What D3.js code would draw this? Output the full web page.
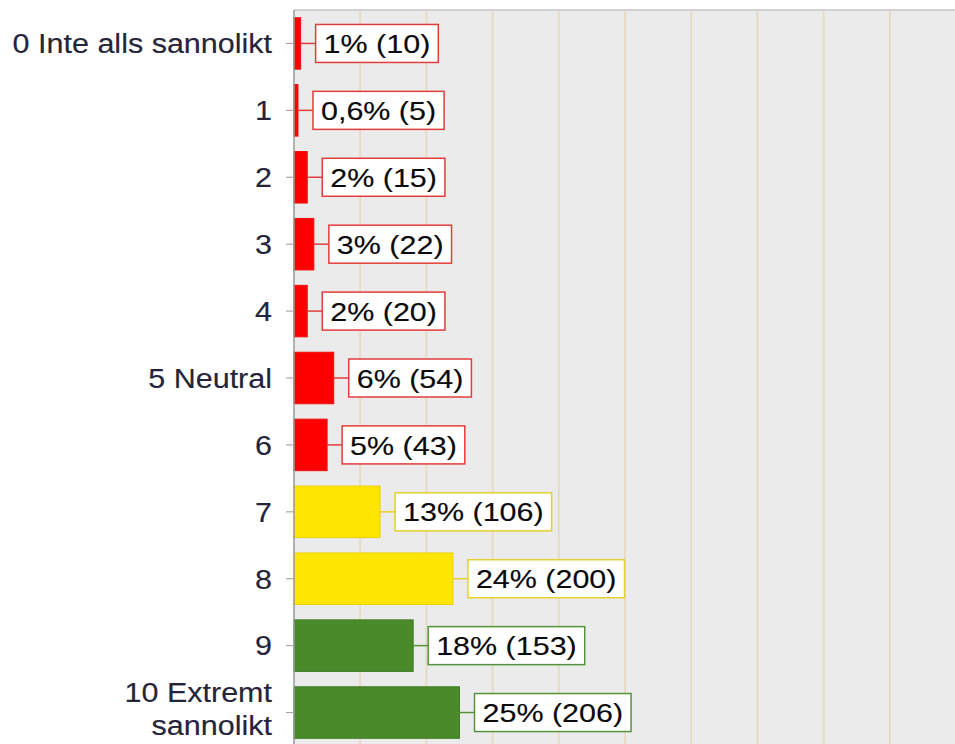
<!DOCTYPE html>
<html>
<head>
<meta charset="utf-8">
<script src="https://cdn.jsdelivr.net/npm/d3@7"></script>
<style>
  html, body { margin: 0; padding: 0; background: #ffffff; }
  svg { display: block; }
</style>
</head>
<body>
<svg id="chart" width="955" height="744"></svg>
<script>
// ---- data ----
const categories = ["0 Inte alls sannolikt", "1", "2", "3", "4", "5 Neutral", "6", "7", "8", "9", "10 Extremt\nsannolikt"];
const percentValues = [1, 0.6, 2, 3, 2, 6, 5, 13, 24, 18, 25];
const percentLabels = ["1%", "0,6%", "2%", "3%", "2%", "6%", "5%", "13%", "24%", "18%", "25%"];
const counts = [10, 5, 15, 22, 20, 54, 43, 106, 200, 153, 206];
const groups = ["detractor", "detractor", "detractor", "detractor", "detractor", "detractor", "detractor", "passive", "passive", "promoter", "promoter"];
const xTicks = [0, 10, 20, 30, 40, 50, 60, 70, 80, 90, 100];

// ---- styles ----
const barFill = { detractor: "#ff0000", passive: "#ffe500", promoter: "#4a8a2a" };
const barStroke = { detractor: "#f01010", passive: "#ecd000", promoter: "#3f7d24" };
const boxStroke = { detractor: "#e43c3c", passive: "#e6d02e", promoter: "#559438" };

const W = 955, H = 744;
const pLeft = 294, pTop = 10, pBottom = 746, pRight = 956;

const svg = d3.select("#chart");

const x = d3.scaleLinear().domain([0, 100]).range([pLeft, pRight]);
const y = d3.scaleBand().domain(categories).range([pTop, pBottom]).paddingInner(0.23).paddingOuter(0.115);

// plot background
svg.append("rect").attr("x", pLeft).attr("y", pTop).attr("width", pRight - pLeft).attr("height", H - pTop)
  .attr("fill", "#ebebeb");

// gridlines
svg.append("g").selectAll("line").data(xTicks.filter(t => t > 0)).join("line")
  .attr("x1", d => x(d)).attr("x2", d => x(d))
  .attr("y1", pTop).attr("y2", H)
  .attr("stroke", "#e6dcc6").attr("stroke-width", 2);

// top border
svg.append("line").attr("x1", pLeft).attr("x2", W).attr("y1", pTop).attr("y2", pTop)
  .attr("stroke", "#d2d2d2").attr("stroke-width", 2);

// bars
const rows = categories.map((c, i) => ({
  cat: c, pct: percentValues[i], label: percentLabels[i] + " (" + counts[i] + ")", grp: groups[i]
}));

svg.append("g").selectAll("rect").data(rows).join("rect")
  .attr("x", x(0))
  .attr("y", d => y(d.cat))
  .attr("width", d => x(d.pct) - x(0))
  .attr("height", y.bandwidth())
  .attr("fill", d => barFill[d.grp])
  .attr("stroke", d => barStroke[d.grp])
  .attr("stroke-width", 1);

// left axis line and ticks
svg.append("line").attr("x1", pLeft).attr("x2", pLeft).attr("y1", pTop).attr("y2", H)
  .attr("stroke", "#9a9a9a").attr("stroke-width", 1.5);
svg.append("g").selectAll("line").data(categories).join("line")
  .attr("x1", pLeft - 8).attr("x2", pLeft)
  .attr("y1", d => y(d) + y.bandwidth() / 2).attr("y2", d => y(d) + y.bandwidth() / 2)
  .attr("stroke", "#a8a8a8").attr("stroke-width", 1.2);

// category labels
const lineH = 32.3;
const catG = svg.append("g");
categories.forEach(c => {
  const cy = y(c) + y.bandwidth() / 2;
  const lines = c.split("\n");
  lines.forEach((ln, i) => {
    catG.append("g")
      .attr("transform", `translate(272,${cy + 9.8 - (lines.length - 1) * 19.9 + i * lineH}) scale(1.09,1)`)
      .append("text")
      .attr("text-anchor", "end")
      .attr("font-family", "'Liberation Sans', Arial, sans-serif")
      .attr("font-size", 28)
      .attr("fill", "#24243a")
      .attr("stroke", "#24243a")
      .attr("stroke-width", 0.15)
      .text(ln);
  });
});

// value label boxes
const labG = svg.append("g");
const sxBox = 1.15;
rows.forEach(d => {
  const cy = y(d.cat) + y.bandwidth() / 2;
  const barEnd = x(d.pct);
  const boxX = barEnd + 15;
  const g = labG.append("g");
  g.append("line")
    .attr("x1", barEnd).attr("x2", boxX).attr("y1", cy).attr("y2", cy)
    .attr("stroke", boxStroke[d.grp]).attr("stroke-width", 1.5);
  const rect = g.append("rect");
  const txt = g.append("g")
    .attr("transform", `translate(${boxX + 8},${cy + 9.6}) scale(${sxBox},1)`)
    .append("text")
    .attr("font-family", "'Liberation Sans', Arial, sans-serif")
    .attr("font-size", 26.5)
    .attr("fill", "#0a0a0a")
    .attr("stroke", "#0a0a0a")
    .attr("stroke-width", 0.15)
    .text(d.label);
  const tw = txt.node().getComputedTextLength() * sxBox;
  rect.attr("x", boxX).attr("y", cy - 19)
    .attr("width", tw + 8 + 8)
    .attr("height", 38)
    .attr("fill", "#ffffff")
    .attr("stroke", boxStroke[d.grp])
    .attr("stroke-width", 1.5);
});
</script>
</body>
</html>
